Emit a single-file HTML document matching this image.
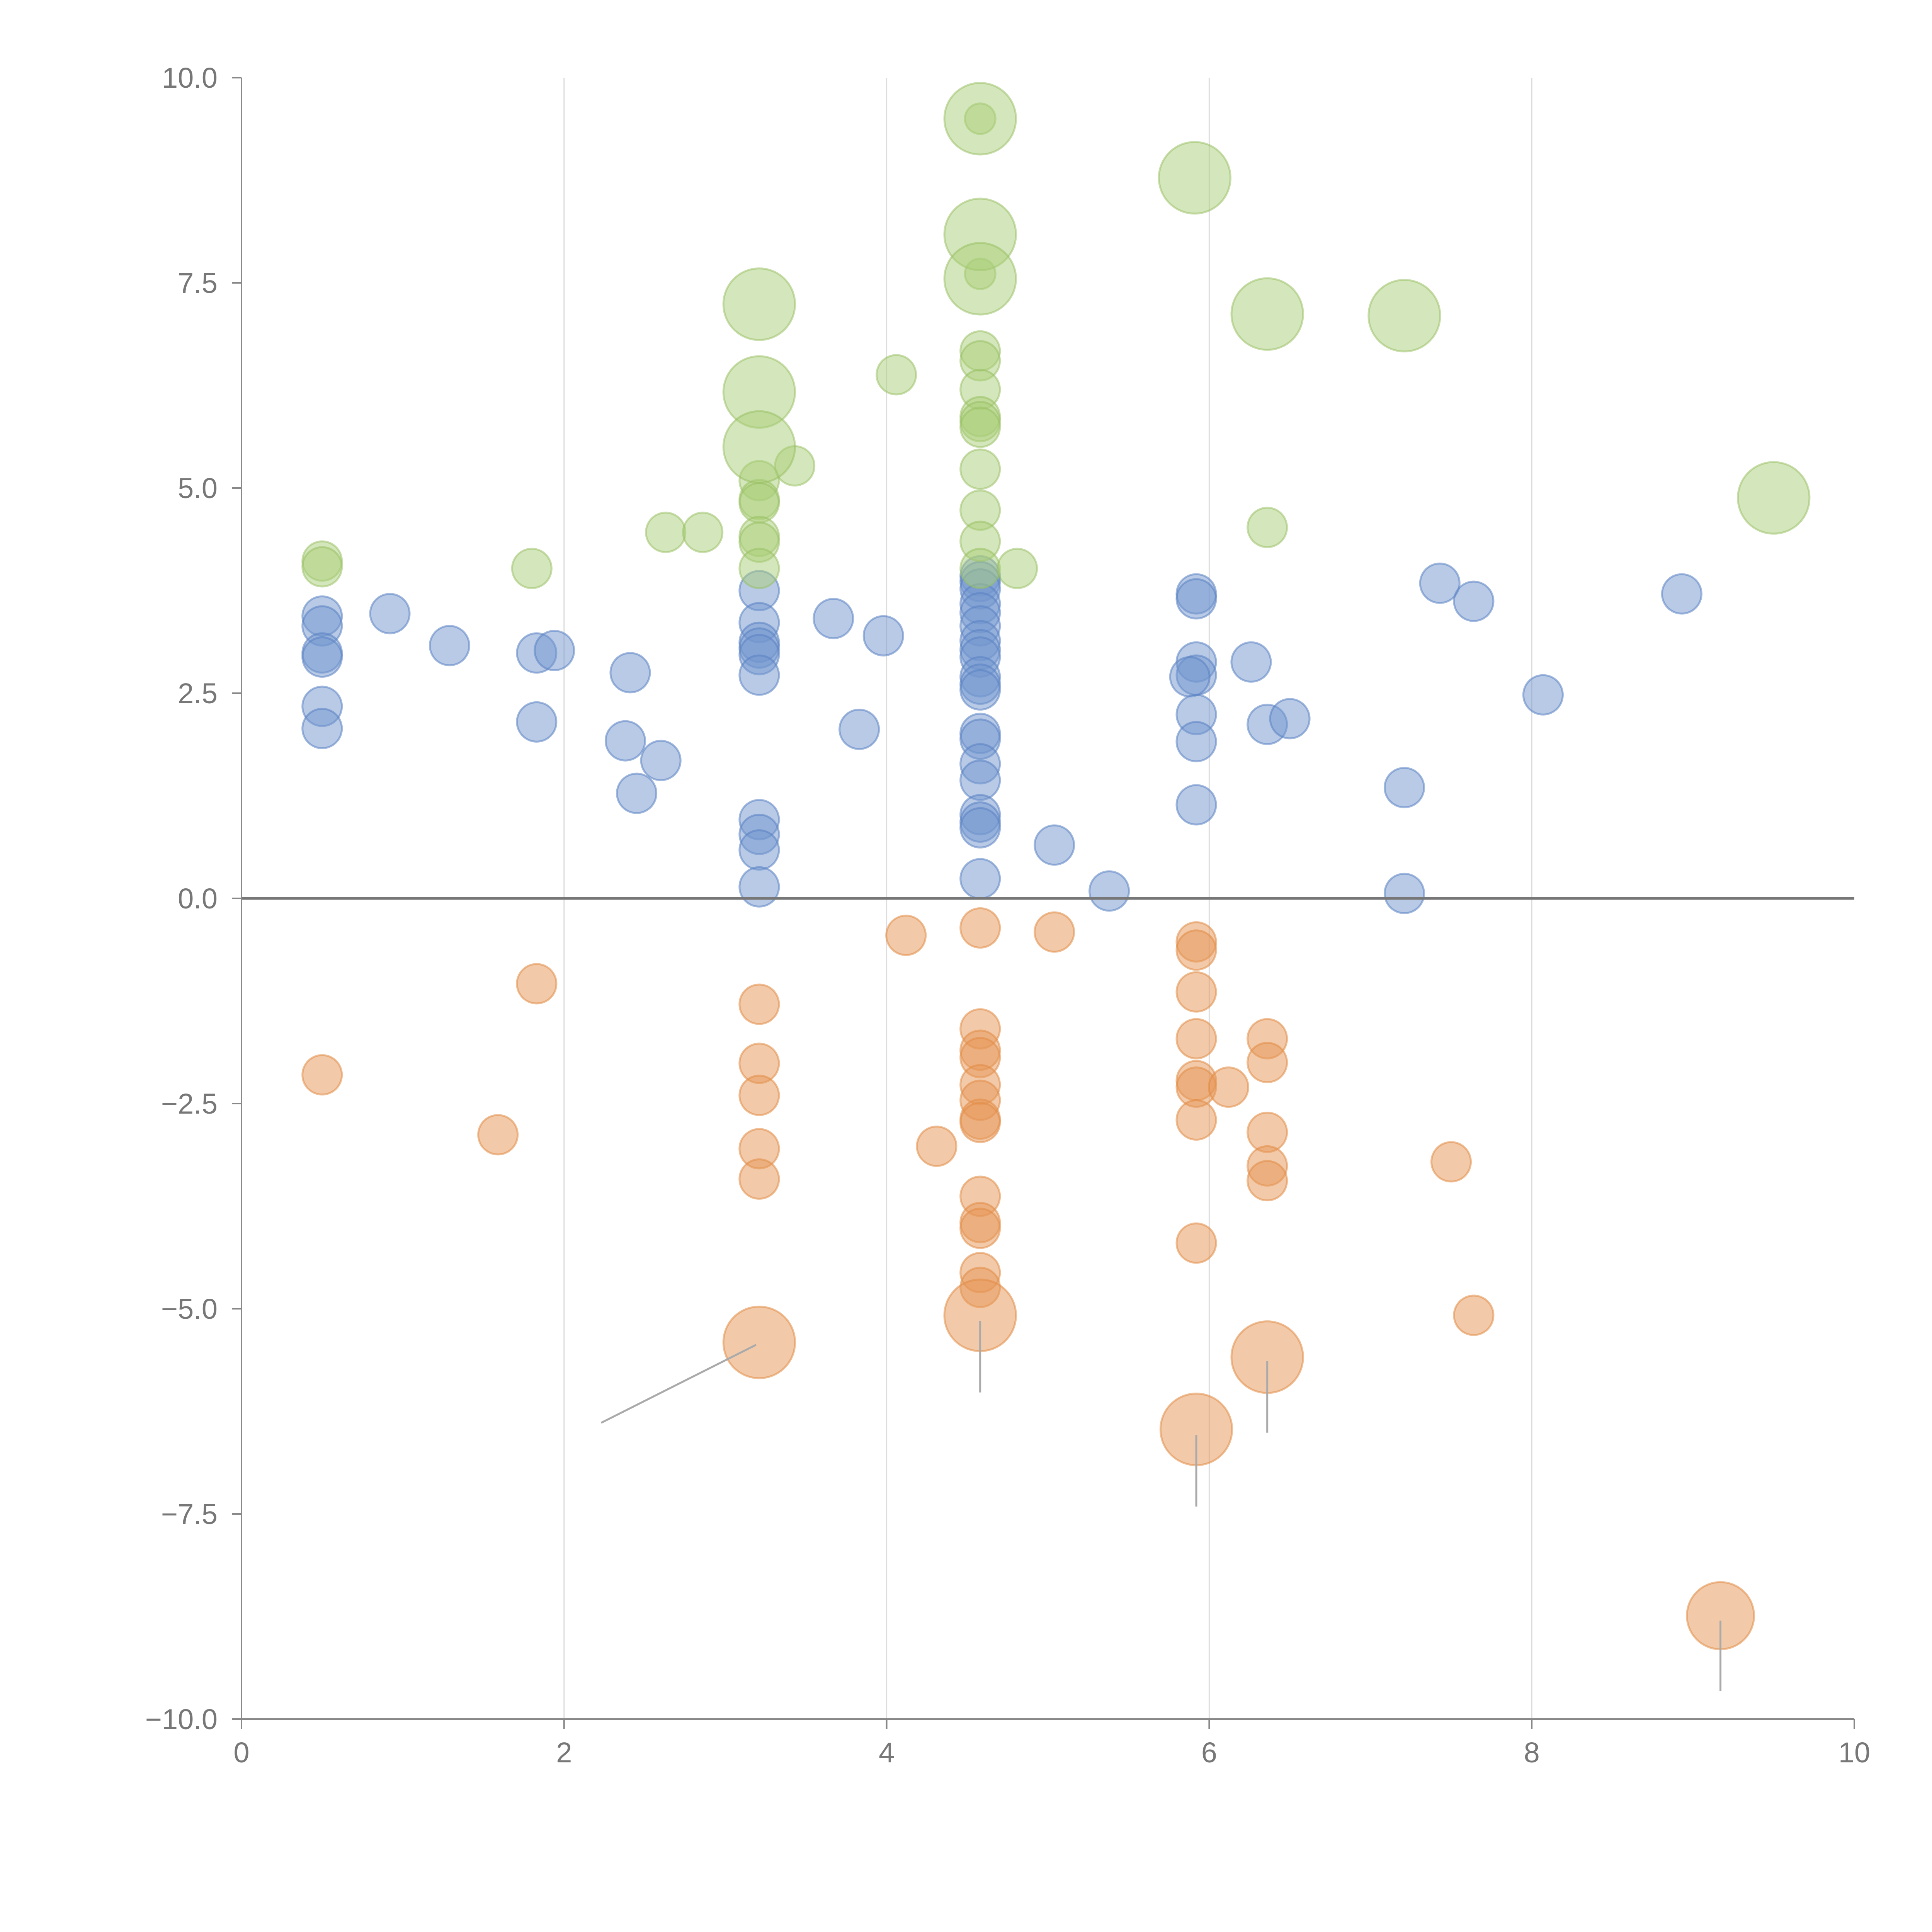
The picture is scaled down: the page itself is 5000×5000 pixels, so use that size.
<!DOCTYPE html>
<html><head><meta charset="utf-8"><style>
html,body{margin:0;padding:0;background:#fff;}
svg{display:block;font-family:"Liberation Sans",Arial,sans-serif;}
</style></head><body>
<svg id="chart" width="5000" height="5000" viewBox="0 0 5000 5000" xmlns="http://www.w3.org/2000/svg">
<g id="grid"></g>
<g id="marks"></g>
<g id="axes"></g>
</svg>
<script>
const xTicks = [0, 2, 4, 6, 8, 10];
const yTicks = [-10, -7.5, -5, -2.5, 0, 2.5, 5, 7.5, 10];
const blueX = [0.50,0.50,0.50,0.50,0.50,0.50,0.92,1.29,1.83,1.94,1.83,2.38,2.41,2.60,2.45,3.21,3.21,3.21,3.21,3.21,3.21,3.21,3.21,3.21,3.21,3.67,3.98,3.83,4.58,4.58,4.58,4.58,4.58,4.58,4.58,4.58,4.58,4.58,4.58,4.58,4.58,4.58,4.58,4.58,4.58,4.58,4.58,4.58,5.04,5.38,5.92,5.92,5.92,5.92,5.88,5.92,5.92,5.92,6.26,6.36,6.50,7.21,7.21,7.43,7.64,8.07,8.93];
const blueY = [3.44,3.32,2.99,2.94,2.34,2.07,3.47,3.08,2.99,3.02,2.15,1.92,2.75,1.68,1.28,3.75,3.36,3.12,3.05,2.97,2.72,0.96,0.78,0.59,0.14,3.41,3.20,2.06,3.93,3.86,3.77,3.59,3.48,3.32,3.14,3.03,2.94,2.70,2.61,2.54,2.01,1.94,1.64,1.44,1.02,0.93,0.86,0.24,0.65,0.09,3.71,3.65,2.88,2.72,2.70,2.24,1.91,1.14,2.88,2.12,2.19,1.35,0.06,3.84,3.62,2.48,3.71];
const orangeX = [0.50,1.59,1.83,3.21,3.21,3.21,3.21,3.21,4.12,4.31,4.58,4.58,4.58,4.58,4.58,4.58,4.58,4.58,4.58,4.58,4.58,4.58,4.58,5.04,5.92,5.92,5.92,5.92,5.92,5.92,5.92,5.92,6.12,6.36,6.36,6.36,6.36,6.36,7.50,7.64,3.21,4.58,5.92,6.36,9.17];
const orangeY = [-2.15,-2.88,-1.04,-1.29,-2.01,-2.40,-3.05,-3.42,-0.45,-3.02,-0.36,-1.59,-1.85,-1.94,-2.27,-2.46,-2.69,-2.73,-3.63,-3.95,-4.02,-4.56,-4.74,-0.41,-0.53,-0.63,-1.14,-1.71,-2.22,-2.30,-2.70,-4.20,-2.30,-1.71,-2.00,-2.85,-3.26,-3.44,-3.21,-5.08,-5.41,-5.08,-6.47,-5.59,-8.74];
const orangeS = [1,1,1,1,1,1,1,1,1,1,1,1,1,1,1,1,1,1,1,1,1,1,1,1,1,1,1,1,1,1,1,1,1,1,1,1,1,1,1,1,3.3,3.3,3.3,3.3,2.9];
const greenX = [0.50,0.50,1.80,2.63,2.86,3.21,3.21,3.21,3.21,3.21,3.21,3.43,4.06,4.58,4.58,4.58,4.58,4.58,4.58,4.58,4.58,4.58,4.58,4.58,4.58,4.81,6.36,4.58,4.58,4.58,5.91,3.21,3.21,3.21,6.36,7.21,9.50];
const greenY = [4.11,4.04,4.02,4.46,4.46,5.09,4.86,4.82,4.41,4.34,4.02,5.27,6.38,6.67,6.55,6.20,5.87,5.81,5.74,5.23,4.73,4.35,4.02,9.50,7.61,4.02,4.52,9.50,8.09,7.55,8.78,7.24,6.17,5.50,7.12,7.10,4.88];
const greenS = [1,1,1,1,1,1,1,1,1,1,1,1,1,1,1,1,1,1,1,1,1,1,1,0.6,0.6,1,1,3.3,3.3,3.3,3.3,3.3,3.3,3.3,3.3,3.3,3.3];
const leaderX1 = [3.19,4.58,5.92,6.36,9.17];
const leaderY1 = [-5.44,-5.15,-6.54,-5.64,-8.80];
const leaderX2 = [2.23,4.58,5.92,6.36,9.17];
const leaderY2 = [-6.39,-6.02,-7.41,-6.51,-9.66];

const NS = "http://www.w3.org/2000/svg";
const L = 625, R = 4799, T = 201, B = 4449;
function sx(v){ return L + (v - 0) / 10 * (R - L); }
function sy(v){ return B - (v + 10) / 20 * (B - T); }
function mk(tag, attrs, parent){ const e = document.createElementNS(NS, tag); for (const k in attrs) e.setAttribute(k, attrs[k]); parent.appendChild(e); return e; }
const grid = document.getElementById('grid'), marks = document.getElementById('marks'), axes = document.getElementById('axes');

xTicks.forEach(t => {
  if (t === 0 || t === 10) return;
  const g = mk('line', {x1:sx(t), x2:sx(t), y1:T, y2:B, stroke:'#dcdcdc', 'stroke-width':3}, grid);
  
  
});

function series(xs, ys, ss, fill, stroke, name){
  xs.forEach((x, i) => {
    const s = ss ? ss[i] : 1;
    const c = mk('circle', {cx:sx(x), cy:sy(ys[i]), r:51*Math.sqrt(s), fill:fill, stroke:stroke, 'stroke-width':5}, marks);
    
    
  });
}
series(blueX, blueY, null, 'rgba(114,150,205,0.5)', 'rgba(90,130,195,0.55)', 'bubble-blue');
series(orangeX, orangeY, orangeS, 'rgba(230,150,85,0.5)', 'rgba(225,140,70,0.55)', 'bubble-orange');
series(greenX, greenY, greenS, 'rgba(170,205,120,0.5)', 'rgba(150,190,95,0.5)', 'bubble-green');

leaderX1.forEach((x, i) => {
  const l = mk('line', {x1:sx(x), y1:sy(leaderY1[i]), x2:sx(leaderX2[i]), y2:sy(leaderY2[i]), stroke:'#aaaaaa', 'stroke-width':5}, marks);
  
  
});

const zl = mk('line', {x1:L, x2:R, y1:sy(0), y2:sy(0), stroke:'#777', 'stroke-width':7}, axes);


const ya = mk('line', {x1:L, x2:L, y1:T, y2:B, stroke:'#888', 'stroke-width':4}, axes);


const xa = mk('line', {x1:L, x2:R, y1:B, y2:B, stroke:'#888', 'stroke-width':4}, axes);



xTicks.forEach(t => {
  const tk = mk('line', {x1:sx(t), x2:sx(t), y1:B, y2:B+25, stroke:'#888', 'stroke-width':4}, axes);
  
  
  const tx = mk('text', {x:sx(t), y:B+112, 'text-anchor':'middle', 'font-size':74, fill:'#777'}, axes);
  tx.textContent = String(t);
  
  
});
yTicks.forEach(t => {
  const tk = mk('line', {x1:L-25, x2:L, y1:sy(t), y2:sy(t), stroke:'#888', 'stroke-width':4}, axes);
  
  
  const tx = mk('text', {x:L-62, y:sy(t)+26, 'text-anchor':'end', 'font-size':74, fill:'#777'}, axes);
  tx.textContent = t.toFixed(1).replace('-', '\u2212');
  
  
});
</script>
</body></html>
